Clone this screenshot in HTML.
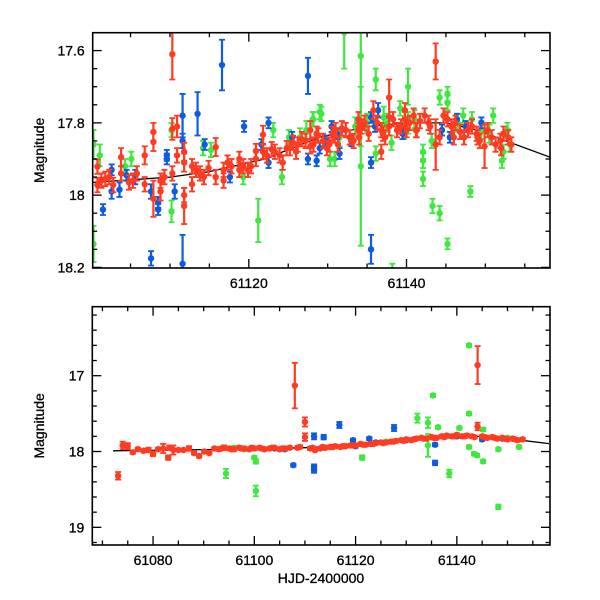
<!DOCTYPE html>
<html><head><meta charset="utf-8">
<style>
html,body{margin:0;padding:0;background:#fff;}
svg{display:block;font-family:"Liberation Sans",sans-serif;}
</style></head>
<body>
<svg id="chart" width="600" height="600" viewBox="0 0 600 600"></svg>
<script>
// ---------- model curve ----------
const modelT = [61072.1,61085,61100,61110,61115,61122,61129,61135,61140,61145,61149,61152,61158.2];
const modelM = [17.99,17.98,17.965,17.95,17.935,17.90,17.84,17.81,17.80,17.80,17.82,17.845,17.895];

// ---------- top panel data ----------
const redTopT = [61100.8,61100.8,61101.8,61102.8,61103.8,61103.8,61104.8,61105.8,61106.8,61106.8,61107.9,61107.9,61107.9,61108.8,61108.8,61110.3,61110.3,61110.3,61110.9,61110.9,61111.8,61111.8,61111.8,61111.8,61112.8,61112.8,61113.8,61114.9,61115.8,61115.8,61116.8,61116.8,61117.8,61118.8,61118.8,61119.9,61120.9,61120.9,61121.8,61121.8,61122.9,61123.9,61124.8,61125.6,61126.7,61127.8,61127.8,61128.6,61128.8,61129.4,61130.9,61131.8,61132.8,61133.9,61133.9,61134.7,61135.8,61136.8,61136.8,61137.8,61137.8,61138.8,61139.8,61139.8,61140.9,61141.7,61142.8,61143.7,61143.7,61144.7,61145.7,61146.8,61147.8,61148.9,61149.9,61150.8,61151.9,61152.9,61139.3,61140.4,61141.2,61130.2,61124.3,61119.3,
  61101.3,61102.3,61105.3,61109.3,61113.3,61114.3,61117.3,61120.3,61122.3,61123.3,61125.2,61126.2,61127.2,61129.9,61130.6,61131.3,61132.3,61133.3,61134.3,61135.2,61136.3,61137.3,61138.3,61141.3,61142.3,61144.2,61145.2,61146.2,61147.3,61148.3,61149.3,61150.3,61151.3,61152.3,61153.3,61126.0,61128.2,61131.0,61134.0,61137.0,61140.0,61143.0,61146.0,61149.0,61152.0];
const redTopM = [17.972,17.921,17.955,17.972,17.895,17.94,17.965,17.94,17.89,17.97,17.825,17.853,18.01,17.96,17.99,17.61,17.817,17.94,17.81,17.89,18.03,17.88,17.91,18.0,17.97,17.92,17.94,17.925,17.867,17.95,17.96,17.93,17.92,17.93,17.9,17.93,17.9,17.878,17.833,17.88,17.873,17.89,17.87,17.855,17.845,17.82,17.865,17.83,17.835,17.85,17.835,17.815,17.84,17.82,17.79,17.8,17.765,17.82,17.88,17.73,17.81,17.82,17.765,17.79,17.78,17.795,17.8,17.63,17.86,17.78,17.81,17.825,17.82,17.83,17.865,17.84,17.85,17.84,17.81,17.80,17.82,17.86,17.91,17.92,
  17.96,17.95,17.96,17.95,17.93,17.95,17.91,17.92,17.89,17.88,17.87,17.86,17.85,17.87,17.83,17.86,17.82,17.85,17.81,17.83,17.80,17.84,17.79,17.82,17.78,17.84,17.79,17.80,17.84,17.81,17.85,17.82,17.86,17.83,17.86,17.88,17.86,17.82,17.84,17.83,17.82,17.81,17.84,17.84,17.87];
const redTopE = [0.02,0.02,0.02,0.02,0.025,0.02,0.02,0.02,0.025,0.02,0.025,0.025,0.05,0.02,0.025,0.07,0.03,0.02,0.03,0.02,0.05,0.025,0.025,0.02,0.02,0.02,0.02,0.02,0.025,0.02,0.02,0.02,0.02,0.02,0.02,0.02,0.02,0.02,0.025,0.02,0.02,0.02,0.02,0.02,0.02,0.025,0.02,0.02,0.02,0.02,0.02,0.02,0.02,0.02,0.02,0.02,0.025,0.02,0.02,0.05,0.025,0.02,0.02,0.02,0.02,0.02,0.02,0.05,0.07,0.02,0.02,0.02,0.02,0.02,0.06,0.02,0.02,0.02,0.02,0.02,0.02,0.02,0.02,0.02,
  0.02,0.02,0.02,0.02,0.02,0.02,0.02,0.02,0.02,0.02,0.02,0.02,0.02,0.02,0.02,0.02,0.02,0.02,0.02,0.02,0.02,0.02,0.02,0.02,0.02,0.02,0.02,0.02,0.02,0.02,0.02,0.02,0.02,0.02,0.02,0.02,0.02,0.02,0.02,0.02,0.02,0.02,0.02,0.02,0.02];

const blueTopT = [61101.5,61102.6,61102.6,61103.6,61104.5,61105.6,61107.6,61107.6,61108.5,61108.5,61109.6,61109.6,61110.6,61111.6,61111.6,61111.6,61113.5,61114.4,61116.6,61117.6,61119.4,61122.5,61121.6,61122.5,61125.5,61127.5,61127.5,61128.6,61129.7,61130.5,61131.5,61135.5,61135.5,61135.5,61136.4,61144.5,61146.4,61149.5,61145.5,61129.0,61130.0,61131.2,61133.0,61136.0,61139.5,61147.5];
const blueTopM = [18.04,17.93,17.99,17.985,17.945,17.95,17.99,18.175,18.02,18.04,17.9,17.89,17.99,17.78,17.85,18.19,17.775,17.86,17.64,17.95,17.81,17.8,17.86,17.91,17.84,17.67,17.9,17.905,17.85,17.81,17.885,17.91,18.15,17.785,17.765,17.82,17.79,17.8,17.84,17.87,17.86,17.83,17.85,17.81,17.83,17.81];
const blueTopE = [0.015,0.015,0.02,0.02,0.015,0.02,0.02,0.02,0.015,0.015,0.015,0.015,0.02,0.06,0.02,0.08,0.06,0.015,0.07,0.015,0.015,0.015,0.015,0.015,0.015,0.05,0.015,0.015,0.015,0.015,0.015,0.015,0.04,0.015,0.02,0.015,0.015,0.015,0.015,0.015,0.015,0.015,0.015,0.015,0.015,0.015];

const greenTopT = [61100.3,61100.3,61101.1,61104.3,61105.1,61110.2,61110.2,61114.2,61115.2,61119.3,61121.2,61123.1,61124.2,61125.1,61128.2,61129.0,61128.1,61129.2,61130.3,61130.9,61132.1,61134.2,61134.2,61136.1,61136.1,61137.1,61138.1,61139.2,61140.2,61140.2,61142.1,61142.1,61142.1,61143.2,61143.3,61144.2,61144.2,61145.2,61145.2,61145.2,61147.2,61148.1,61148.3,61151.0,61152.1,61152.3,61153.1,61152.8,61138.2,
  61126.5,61127.3,61131.5,61133.5,61135.0,61137.6,61139.7,61141.0,61146.5,61149.5,61150.5];
const greenTopM = [17.86,18.135,17.89,17.92,17.9,17.82,18.045,17.87,17.875,17.95,18.07,17.82,17.95,17.84,17.79,17.77,17.79,17.775,17.9,17.9,17.55,17.615,17.92,17.68,17.885,17.785,17.855,17.76,17.7,17.8,17.88,17.905,17.955,17.85,18.03,18.05,17.73,17.72,17.745,18.135,17.78,17.99,17.79,17.78,17.905,17.88,17.86,17.82,18.21,
  17.84,17.82,17.84,17.81,17.80,17.80,17.82,17.79,17.80,17.82,17.83];
const greenTopE = [0.04,0.05,0.03,0.02,0.02,0.02,0.03,0.02,0.02,0.02,0.06,0.02,0.02,0.02,0.02,0.02,0.02,0.02,0.02,0.02,0.1,0.25,0.22,0.03,0.02,0.03,0.02,0.02,0.05,0.03,0.02,0.02,0.02,0.02,0.02,0.02,0.02,0.02,0.02,0.015,0.02,0.015,0.02,0.02,0.02,0.02,0.02,0.02,0.02,
  0.025,0.025,0.025,0.025,0.025,0.025,0.025,0.025,0.025,0.025,0.025];

// ---------- bottom panel data ----------
const redBotT = [61073.1,61074.0,61075.0,61076.0,61077.0,61078.1,61079.1,61080.0,61081.0,61082.0,61083.0,61083.2,61084.0,61085.0,61086.0,61087.1,61088.1,61089.1,61090.1,61091.1,61092.1,61093,61094,61095,61096,61097,61098,61099,61100,61101,61102,61103,61104,61105,61106,61107,61108.0,61109,61110,61110,61111,61112,61113,61114,61115,61116,61117,61118,61119,61120,61121,61122,61123,61124,61125,61126,61127,61128,61129,61130,61131,61132,61133,61134,61135,61136,61137,61138,61139,61140,61141,61142,61143,61144.1,61144.1,61145,61146,61147,61148,61149,61150,61151,61152,61153,
  61093.5,61095.5,61097.5,61099.5,61101.5,61103.5,61105.5,61108.5,61111.5,61113.5,61115.5,61117.5,61119.5,61121.5,61123.5,61125.5,61127.5,61129.5,61131.5,61133.5,61135.5,61137.5,61139.5,61141.5,61143.5,61145.5,61147.5,61149.5,61151.5];
const redBotM = [18.32,17.92,17.93,18.01,17.97,17.99,17.98,18.03,17.97,17.96,18.08,17.95,17.98,17.98,17.98,17.96,18.02,18.06,18.0,18.02,17.96,17.97,17.95,17.96,17.97,17.95,17.96,17.97,17.96,17.95,17.97,17.96,17.95,17.97,17.96,17.95,17.13,17.94,17.61,17.81,17.96,17.98,17.96,17.95,17.94,17.93,17.94,17.93,17.92,17.92,17.90,17.91,17.90,17.89,17.88,17.88,17.87,17.86,17.85,17.84,17.85,17.83,17.82,17.83,17.81,17.82,17.80,17.79,17.80,17.78,17.80,17.79,17.80,16.86,17.67,17.80,17.82,17.81,17.83,17.82,17.84,17.83,17.85,17.84,
  17.96,17.97,17.96,17.95,17.96,17.95,17.96,17.95,17.95,17.94,17.94,17.93,17.92,17.91,17.90,17.89,17.87,17.86,17.84,17.83,17.82,17.81,17.80,17.80,17.81,17.81,17.82,17.83,17.84];
const redBotE = [0.05,0.05,0.04,0.02,0.02,0.02,0.03,0.03,0.02,0.06,0.03,0.03,0.06,0.02,0.02,0.03,0.02,0.02,0.02,0.02,0.02,0.02,0.03,0.02,0.02,0.02,0.02,0.02,0.02,0.02,0.02,0.02,0.02,0.02,0.02,0.02,0.3,0.02,0.06,0.05,0.02,0.02,0.02,0.02,0.02,0.02,0.02,0.02,0.02,0.02,0.02,0.02,0.02,0.02,0.02,0.02,0.02,0.02,0.02,0.02,0.02,0.02,0.02,0.02,0.02,0.02,0.02,0.02,0.02,0.02,0.02,0.02,0.02,0.25,0.05,0.02,0.02,0.02,0.02,0.02,0.02,0.02,0.02,0.02,
  0.02,0.02,0.02,0.02,0.02,0.02,0.02,0.02,0.02,0.02,0.02,0.02,0.02,0.02,0.02,0.02,0.02,0.02,0.02,0.02,0.02,0.02,0.02,0.02,0.02,0.02,0.02,0.02,0.02];

const blueBotT = [61107.7,61111.8,61111.8,61111.8,61113.7,61116.8,61119.5,61122.7,61127.6,61135.7,61135.7,61145.0,61104,61106,61114,61120,61124,61130,61140,61149];
const blueBotM = [18.18,18.2,18.25,17.8,17.81,17.65,17.85,17.83,17.69,17.91,18.15,17.84,17.96,17.97,17.95,17.93,17.88,17.85,17.80,17.83];
const blueBotE = [0.02,0.03,0.03,0.04,0.03,0.04,0.02,0.02,0.04,0.02,0.03,0.02,0.02,0.02,0.02,0.02,0.02,0.02,0.02,0.02];

const greenBotT = [61083.0,61094.4,61100.3,61100.3,61100.0,61121.3,61132.2,61134.3,61134.3,61135.3,61136.3,61138.5,61142.4,61142.4,61142.4,61143.4,61144.0,61145.2,61145.2,61148.2,61148.2,61152.3,61140.5,61096,61098,61126,61138,61150];
const greenBotM = [18.08,18.29,18.52,18.13,18.08,18.08,17.56,17.62,17.92,17.26,17.68,18.29,16.6,17.5,17.94,18.03,18.05,18.13,17.71,17.97,18.73,17.94,17.69,17.95,17.97,17.87,17.80,17.82];
const greenBotE = [0.02,0.06,0.07,0.03,0.02,0.03,0.06,0.07,0.15,0.02,0.02,0.05,0.02,0.02,0.02,0.02,0.02,0.02,0.02,0.02,0.03,0.02,0.02,0.02,0.02,0.02,0.02,0.02];

const topXTicks = ["61120","61140"];
const topXTickVals = [61120,61140];
const topYTicks = ["17.6","17.8","18","18.2"];
const topYTickVals = [17.6,17.8,18.0,18.2];
const botXTicks = ["61080","61100","61120","61140"];
const botXTickVals = [61080,61100,61120,61140];
const botYTicks = ["17","18","19"];
const botYTickVals = [17,18,19];

const NS = "http://www.w3.org/2000/svg";
const svg = document.getElementById('chart');
const COL = {red:'#ff3b22', blue:'#0b5ce0', green:'#3fe83f'};

function mk(tag, attrs, parent){
  const e = document.createElementNS(NS, tag);
  for (const k in attrs) e.setAttribute(k, attrs[k]);
  (parent||svg).appendChild(e);
  return e;
}

function panel(p){
  const xs = t => p.x0 + (t - p.t0) / (p.t1 - p.t0) * (p.x1 - p.x0);
  const ys = m => p.y0 + (m - p.m0) / (p.m1 - p.m0) * (p.y1 - p.y0);
  const g = mk('g', {});
  
  
  const clipId = p.name + '-clip';
  const cp = mk('clipPath', {id: clipId}, g);
  mk('rect', {x:p.x0, y:p.y0, width:p.x1-p.x0, height:p.y1-p.y0}, cp);
  const plot = mk('g', {'clip-path':'url(#'+clipId+')'}, g);
  
  

  let d = '';
  modelT.forEach((t,i)=>{ d += (i? 'L':'M') + xs(t).toFixed(1) + ' ' + ys(modelM[i]).toFixed(1); });
  const ml = mk('path', {d:d, fill:'none', stroke:'#000', 'stroke-width':1.3}, plot);
  
  

  p.series.forEach(s=>{
    const sg = mk('g', {fill:COL[s.c], stroke:COL[s.c]}, plot);
    
    
    s.T.forEach((t,i)=>{
      const x = xs(t), y = ys(s.M[i]);
      const ya = ys(s.M[i] - s.E[i]), yb = ys(s.M[i] + s.E[i]);
      const pt = mk('g', {}, sg);
      
      
      mk('line', {x1:x, x2:x, y1:ya, y2:yb, 'stroke-width':2.2}, pt);
      mk('line', {x1:x-3, x2:x+3, y1:ya, y2:ya, 'stroke-width':1.8}, pt);
      mk('line', {x1:x-3, x2:x+3, y1:yb, y2:yb, 'stroke-width':1.8}, pt);
      mk('circle', {cx:x, cy:y, r:3.2, stroke:'none'}, pt);
    });
  });

  const fr = mk('rect', {x:p.x0, y:p.y0, width:p.x1-p.x0, height:p.y1-p.y0, fill:'none', stroke:'#000', 'stroke-width':1.6}, g);
  
  

  for (let t = Math.ceil(p.t0/p.xminor)*p.xminor; t <= p.t1; t += p.xminor){
    const x = xs(t);
    const major = Math.abs(t/p.xmajor - Math.round(t/p.xmajor)) < 1e-6;
    const L = major ? 9 : 4.5;
    mk('line', {x1:x, x2:x, y1:p.y1, y2:p.y1-L, stroke:'#000', 'stroke-width':1.3}, g);
    mk('line', {x1:x, x2:x, y1:p.y0, y2:p.y0+L, stroke:'#000', 'stroke-width':1.3}, g);
  }
  const n0 = Math.ceil(p.m0/p.yminor - 1e-6), n1 = Math.floor(p.m1/p.yminor + 1e-6);
  for (let n = n0; n <= n1; n++){
    const m = n*p.yminor, y = ys(m);
    const major = Math.abs(m/p.ymajor - Math.round(m/p.ymajor)) < 1e-6;
    const L = major ? 9 : 4.5;
    mk('line', {x1:p.x0, x2:p.x0+L, y1:y, y2:y, stroke:'#000', 'stroke-width':1.3}, g);
    mk('line', {x1:p.x1, x2:p.x1-L, y1:y, y2:y, stroke:'#000', 'stroke-width':1.3}, g);
  }
  p.xl.forEach((lab,i)=>{
    const tx = mk('text', {x:xs(p.xv[i]), y:p.y1+20, 'text-anchor':'middle', 'font-size':14, stroke:'#000', 'stroke-width':0.3}, g);
    tx.textContent = lab;
    
    
  });
  p.yl.forEach((lab,i)=>{
    const tx = mk('text', {x:p.x0-8, y:ys(p.yv[i])+5, 'text-anchor':'end', 'font-size':14, stroke:'#000', 'stroke-width':0.3}, g);
    tx.textContent = lab;
    
    
  });
  const yt = mk('text', {x:0, y:0, 'text-anchor':'middle', 'font-size':14, stroke:'#000', 'stroke-width':0.3, transform:'translate(44,'+((p.y0+p.y1)/2)+') rotate(-90)'}, g);
  yt.textContent = 'Magnitude';
  
  
}

panel({name:'top-panel', x0:92.7, x1:550, y0:32.7, y1:268, t0:61100.2, t1:61158.2, m0:17.5505, m1:18.2017,
  xminor:5, xmajor:20, yminor:0.05, ymajor:0.2, xl:topXTicks, xv:topXTickVals, yl:topYTicks, yv:topYTickVals,
  series:[{c:'green',T:greenTopT,M:greenTopM,E:greenTopE},{c:'blue',T:blueTopT,M:blueTopM,E:blueTopE},{c:'red',T:redTopT,M:redTopM,E:redTopE}]});

panel({name:'bottom-panel', x0:92.3, x1:550, y0:306.7, y1:545, t0:61068.0, t1:61158.4, m0:16.09, m1:19.233,
  xminor:5, xmajor:20, yminor:0.2, ymajor:1, xl:botXTicks, xv:botXTickVals, yl:botYTicks, yv:botYTickVals,
  series:[{c:'green',T:greenBotT,M:greenBotM,E:greenBotE},{c:'blue',T:blueBotT,M:blueBotM,E:blueBotE},{c:'red',T:redBotT,M:redBotM,E:redBotE}]});

const xt = mk('text', {x:321, y:583, 'text-anchor':'middle', 'font-size':14, stroke:'#000', 'stroke-width':0.3});
xt.textContent = 'HJD-2400000';


</script>
</body></html>
